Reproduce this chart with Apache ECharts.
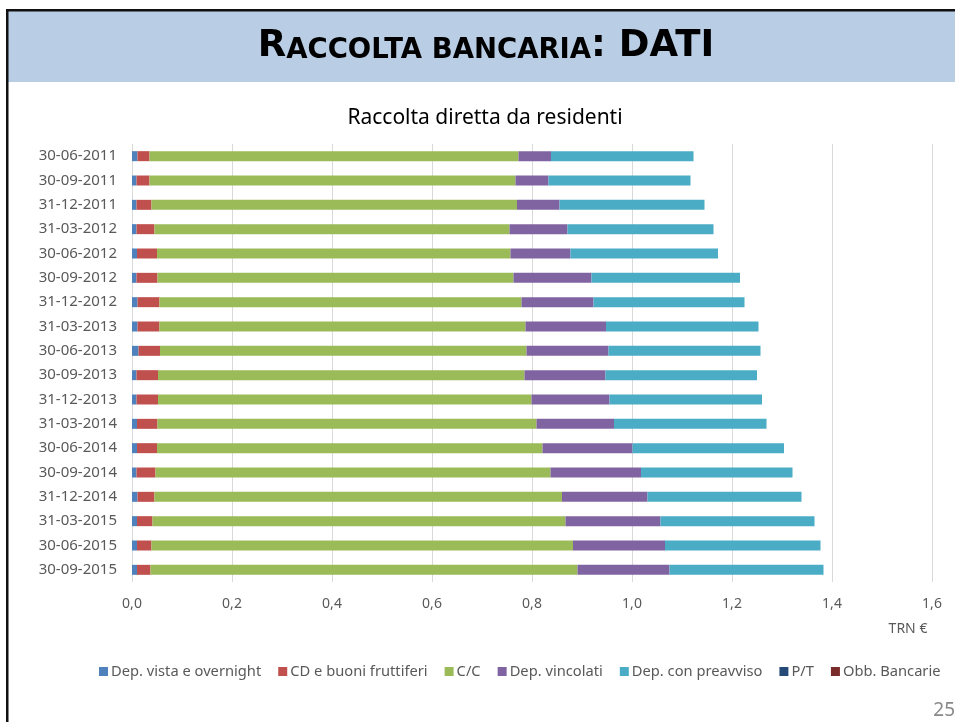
<!DOCTYPE html>
<html>
<head>
<meta charset="utf-8">
<script src="https://cdn.jsdelivr.net/npm/echarts@6/dist/echarts.min.js"></script>
<style>
html,body{margin:0;padding:0;background:#fff;}
#charts{width:955px;height:722px;}
</style>
</head>
<body>
<div id="charts"></div>
<script>
//raccolta diretta da residenti, TRN euro
var categories = ["30-06-2011","30-09-2011","31-12-2011","31-03-2012","30-06-2012","30-09-2012",
	"31-12-2012","31-03-2013","30-06-2013","30-09-2013","31-12-2013","31-03-2014",
	"30-06-2014","30-09-2014","31-12-2014","31-03-2015","30-06-2015","30-09-2015"];
var depVista = [0.011,0.009,0.009,0.009,0.010,0.009,0.011,0.011,0.013,0.009,0.009,0.010,0.010,0.009,0.011,0.010,0.010,0.010];
var cdBuoni = [0.024,0.026,0.030,0.036,0.040,0.042,0.044,0.044,0.043,0.043,0.043,0.041,0.040,0.038,0.034,0.031,0.029,0.027];
var contiCorrenti = [0.738,0.732,0.731,0.710,0.707,0.712,0.724,0.732,0.733,0.733,0.747,0.758,0.771,0.790,0.815,0.826,0.843,0.854];
var depVincolati = [0.065,0.066,0.085,0.116,0.120,0.156,0.144,0.161,0.164,0.162,0.156,0.155,0.180,0.181,0.171,0.190,0.184,0.184];
var depPreavviso = [0.285,0.284,0.290,0.292,0.295,0.297,0.302,0.305,0.304,0.303,0.305,0.305,0.303,0.303,0.308,0.308,0.311,0.308];
var pronti = [0,0,0,0,0,0,0,0,0,0,0,0,0,0,0,0,0,0];
var obbBancarie = [0,0,0,0,0,0,0,0,0,0,0,0,0,0,0,0,0,0];
var seriesNames = ['Dep. vista e overnight','CD e buoni fruttiferi','C/C','Dep. vincolati','Dep. con preavviso','P/T','Obb. Bancarie'];
var seriesColors = ['#4f81bd','#c0504d','#9bbb59','#8064a2','#4bacc6','#254a78','#7a2c2a'];

var font = '"Noto Sans", sans-serif';
var titleFont = '"DejaVu Sans", sans-serif';
var grey = '#595959';

function makeSeries(i, data){
	return {
		name: seriesNames[i],
		type: 'bar',
		stack: 'tot',
		barWidth: 10,
		itemStyle: {color: seriesColors[i]},
		data: data
	};
}

var options = {
	animation: false,
	backgroundColor: '#fff',
	textStyle: {fontFamily: font},
	title: {
		text: 'Raccolta diretta da residenti',
		left: 480,
		textAlign: 'center',
		top: 103,
		textStyle: {fontFamily: font, fontSize: 21, fontWeight: 'normal', color: '#000'}
	},
	grid: {left: 132, right: 23, top: 144, bottom: 140},
	legend: {
		left: 94,
		top: 659,
		itemWidth: 9,
		itemHeight: 9,
		itemGap: 17,
		icon: 'rect',
		textStyle: {fontFamily: font, fontSize: 14.7, color: grey, padding: [0,0,0,-2]},
		data: seriesNames
	},
	xAxis: {
		type: 'value',
		min: 0,
		max: 1.6,
		interval: 0.2,
		axisLine: {show: false},
		axisTick: {show: false},
		splitLine: {lineStyle: {color: '#d9d9d9'}},
		axisLabel: {
			color: grey, fontSize: 14, margin: 15,
			formatter: function(v){ return v.toFixed(1).replace('.', ','); }
		}
	},
	yAxis: {
		type: 'category',
		inverse: true,
		data: categories,
		axisLine: {show: false},
		axisTick: {show: false},
		axisLabel: {color: grey, fontSize: 15, margin: 15}
	},
	graphic: [
		{type: 'rect', shape: {x: 8, y: 11, width: 947, height: 71}, style: {fill: '#b9cde5'}},
		{type: 'rect', shape: {x: 6, y: 9, width: 949, height: 2.5}, style: {fill: '#111'}},
		{type: 'rect', shape: {x: 6, y: 9, width: 2.5, height: 713}, style: {fill: '#111'}},
		{
			type: 'text', x: 486, y: 46,
			style: {
				text: '{b|R}{s|ACCOLTA BANCARIA}{b|: DATI}',
				align: 'center', verticalAlign: 'middle',
				rich: {
					b: {fontFamily: titleFont, fontWeight: 'bold', fontSize: 37, fill: '#000'},
					s: {fontFamily: titleFont, fontWeight: 'bold', fontSize: 27.5, fill: '#000', verticalAlign: 'bottom'}
				}
			}
		},
		{type: 'text', x: 908, y: 629, style: {text: 'TRN €', fontFamily: font, fontSize: 14, fill: grey, align: 'center', verticalAlign: 'middle'}},
		{type: 'text', x: 955, y: 711, style: {text: '25', fontFamily: font, fontSize: 19, fill: '#898989', align: 'right', verticalAlign: 'middle'}}
	],
	series: [
		makeSeries(0, depVista),
		makeSeries(1, cdBuoni),
		makeSeries(2, contiCorrenti),
		makeSeries(3, depVincolati),
		makeSeries(4, depPreavviso),
		makeSeries(5, pronti),
		makeSeries(6, obbBancarie)
	]
};

var charts = echarts.init(document.getElementById('charts'));
charts.setOption(options);
</script>
</body>
</html>
